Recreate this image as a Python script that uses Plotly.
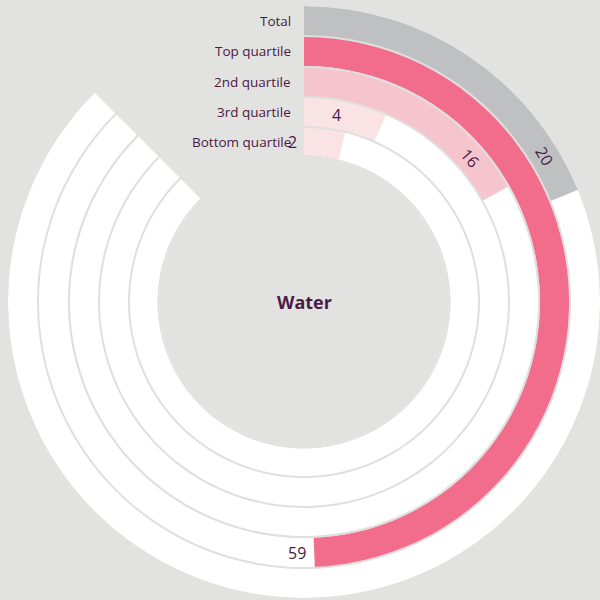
import math
import plotly.graph_objects as go

# ---- data ----
groups = ["Total", "Top quartile", "2nd quartile", "3rd quartile", "Bottom quartile"]
value_labels = [20, 59, 16, 4, 2]
# arc length, as share (0-100) of the full 315-degree track
arc_share = [21.5, 56.4, 19.2, 7.5, 4.35]
center_title = "Water"

# ---- style / layout constants ----
colors = ["#bfc0c2", "#f26c8b", "#f6c4cd", "#f9e3e5", "#f9e3e5"]
track_color = "#ffffff"
sep_color = "#dfdfdf"
bg = "#e2e2e0"
text_color = "#4b1a45"
font_family = "Open Sans"
W = H = 600
cx_px, cy_px, R = 304, 302, 296          # polar centre & outer radius (px)
ring_outer = [296, 266, 235, 205, 175]   # outer radius of each ring (px)
ring_w = 30
full_span = 315.0
label_offset_px = [-44, 17, -44, -46, -50]  # along-arc offset of value label from bar end

fig = go.Figure()

# background tracks
for i, g in enumerate(groups):
    fig.add_trace(go.Barpolar(
        r=[ring_w], base=[ring_outer[i] - ring_w], theta=[full_span / 2], width=[full_span],
        marker=dict(color=track_color, line=dict(width=0)), hoverinfo="skip", showlegend=False))

# value bars
for i, g in enumerate(groups):
    span = arc_share[i] * full_span / 100.0
    fig.add_trace(go.Barpolar(
        r=[ring_w], base=[ring_outer[i] - ring_w], theta=[span / 2], width=[span],
        marker=dict(color=colors[i], line=dict(width=0)), name=g, showlegend=False))

# separator rings
for i in range(1, len(groups)):
    fig.add_trace(go.Barpolar(
        r=[2], base=[ring_outer[i] - 1], theta=[full_span / 2], width=[full_span],
        marker=dict(color=sep_color, line=dict(width=0)), hoverinfo="skip", showlegend=False))
fig.add_trace(go.Barpolar(
    r=[1.5], base=[ring_outer[-1] - ring_w], theta=[full_span / 2], width=[full_span],
    marker=dict(color=sep_color, line=dict(width=0)), hoverinfo="skip", showlegend=False))


def to_paper(r, theta_deg):
    t = math.radians(theta_deg)
    x = cx_px + r * math.sin(t)
    y = cy_px - r * math.cos(t)
    return x / W, 1 - y / H


annotations = []
# category labels
for i, g in enumerate(groups):
    rc = ring_outer[i] - ring_w / 2
    x, y = to_paper(rc, 0)
    annotations.append(dict(x=x - 11 / W, y=y, xref="paper", yref="paper", text=g,
                            showarrow=False, xanchor="right", yanchor="middle",
                            font=dict(size=13.5, color=text_color, family=font_family)))
# value labels
for i, v in enumerate(value_labels):
    rc = ring_outer[i] - ring_w / 2
    end = arc_share[i] * full_span / 100.0
    th = end + math.degrees(label_offset_px[i] / rc)
    x, y = to_paper(rc, th)
    s = math.sin(math.radians(th))
    if abs(s) > 0.5:
        ang = th if math.cos(math.radians(th)) > -0.5 and th < 180 else th - 180
    else:
        ang = 0
    annotations.append(dict(x=x, y=y, xref="paper", yref="paper", text=str(v),
                            showarrow=False, xanchor="center", yanchor="middle", textangle=ang,
                            font=dict(size=16, color=text_color, family=font_family)))
# centre title
x, y = to_paper(0, 0)
annotations.append(dict(x=x, y=y, xref="paper", yref="paper", text="<b>%s</b>" % center_title,
                        showarrow=False, xanchor="center", yanchor="middle",
                        font=dict(size=18, color=text_color, family=font_family)))

fig.update_layout(
    width=W, height=H, margin=dict(l=0, r=0, t=0, b=0),
    paper_bgcolor=bg, plot_bgcolor=bg,
    polar=dict(
        domain=dict(x=[(cx_px - R) / W, (cx_px + R) / W],
                    y=[1 - (cy_px + R) / H, 1 - (cy_px - R) / H]),
        bgcolor="rgba(0,0,0,0)",
        barmode="overlay",
        radialaxis=dict(range=[0, R], visible=False),
        angularaxis=dict(direction="clockwise", rotation=90, visible=False),
    ),
    annotations=annotations,
    showlegend=False,
)

fig.write_html("out.html")
